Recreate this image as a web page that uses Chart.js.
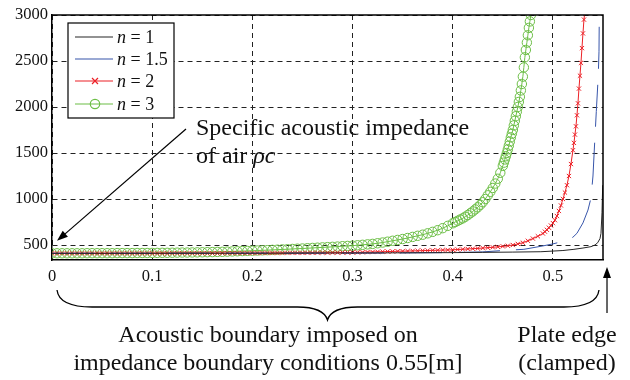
<!DOCTYPE html>
<html>
<head>
<meta charset="utf-8">
<script src="https://cdn.jsdelivr.net/npm/chart.js@4"></script>
<style>
  body { margin: 0; background: #fff; }
  #wrap { position: relative; width: 630px; height: 380px; }
  .note { position: absolute; font-family: "Liberation Serif", "Times New Roman", serif; font-size: 24px; line-height: 28px; color: #111; white-space: nowrap; }
</style>
</head>
<body>
<div id="wrap">
  <canvas id="impChart" width="630" height="380"></canvas>
  <div class="note" style="left:196px; top:113px;">Specific acoustic impedance<br>of air <i>ρc</i></div>
  <div class="note" style="left:118px; top:320px; width:300px; text-align:center;">Acoustic boundary imposed on<br><span style="margin-left:-100px; margin-right:-100px;">impedance boundary conditions 0.55[m]</span></div>
  <div class="note" style="left:516px; top:320px; width:102px; text-align:center;">Plate edge<br>(clamped)</div>
</div>
<script>
// tick values
const xTicks = [0, 0.1, 0.2, 0.3, 0.4, 0.5];
const yTicks = [500, 1000, 1500, 2000, 2500, 3000];
const seriesNames = ['1', '1.5', '2', '3'];

// n = 1
const blackX = [0, 0.1, 0.2, 0.3, 0.4, 0.43, 0.46, 0.488, 0.51, 0.521, 0.53, 0.538, 0.542, 0.5447, 0.547, 0.548, 0.549, 0.5497];
const blackY = [410, 410, 411, 413, 417, 420, 423, 427, 440, 453, 467, 482, 500, 525, 570, 627, 850, 1150];

// n = 1.5
const blueX = [0, 0.1, 0.2, 0.3, 0.35, 0.4, 0.43, 0.45, 0.471, 0.49, 0.5, 0.513, 0.52, 0.524, 0.53, 0.535, 0.538, 0.54, 0.5413, 0.5433, 0.5453, 0.546, 0.5463];
const blueY = [410, 410, 411, 412, 414, 418, 425, 440, 453, 490, 512, 547, 585, 627, 740, 880, 1010, 1250, 1532, 1950, 2348, 2600, 3000];

// n = 2
const redX = [0, 0.005, 0.01, 0.015, 0.02, 0.025, 0.03, 0.035, 0.04, 0.045, 0.05, 0.055, 0.06, 0.065, 0.07, 0.075, 0.08, 0.085, 0.09, 0.095,
  0.1, 0.105, 0.11, 0.115, 0.12, 0.125, 0.13, 0.135, 0.14, 0.145, 0.15, 0.155, 0.16, 0.165, 0.17, 0.175, 0.18, 0.185, 0.19, 0.195,
  0.2, 0.205, 0.21, 0.215, 0.22, 0.225, 0.23, 0.235, 0.24, 0.245, 0.25, 0.255, 0.26, 0.265, 0.27, 0.275, 0.28, 0.285, 0.29, 0.295,
  0.3, 0.305, 0.31, 0.315, 0.32, 0.325, 0.33, 0.335, 0.34, 0.345, 0.35, 0.355, 0.36, 0.365, 0.37, 0.375, 0.38, 0.385, 0.39, 0.395,
  0.4, 0.405, 0.41, 0.415, 0.42, 0.425, 0.43, 0.435, 0.44, 0.445, 0.45, 0.455, 0.46, 0.465, 0.47, 0.475, 0.48, 0.485, 0.49,
  0.492, 0.494, 0.496, 0.498, 0.5, 0.502, 0.504, 0.506, 0.508, 0.51, 0.512, 0.514, 0.516, 0.518, 0.52,
  0.521, 0.522, 0.523, 0.524, 0.525, 0.526, 0.527, 0.528, 0.529, 0.53, 0.531, 0.5315];
const redY = [410, 410, 410, 410, 410, 410, 410, 410, 410, 410, 410, 410, 410, 410, 410, 410, 410, 410, 410, 410,
  410, 410, 410, 410, 411, 411, 411, 411, 411, 411, 411, 411, 411, 411, 412, 412, 412, 412, 412, 412,
  412, 412, 413, 413, 413, 413, 413, 414, 414, 414, 414, 415, 415, 416, 416, 416, 417, 417, 418, 418,
  419, 420, 421, 423, 424, 426, 427, 429, 430, 432, 433, 434, 436, 437, 439, 440, 442, 443, 445, 446,
  448, 451, 454, 457, 460, 463, 467, 471, 475, 480, 485, 492, 500, 512, 525, 546, 570, 595, 625,
  645, 665, 688, 712, 738, 770, 815, 870, 930, 1000, 1070, 1150, 1250, 1380, 1530,
  1610, 1700, 1790, 1910, 2040, 2200, 2340, 2480, 2640, 2800, 2950, 3000];

// n = 3
const greenX = [0, 0.005, 0.01, 0.015, 0.02, 0.025, 0.03, 0.035, 0.04, 0.045, 0.05, 0.055, 0.06, 0.065, 0.07, 0.075, 0.08, 0.085, 0.09, 0.095,
  0.1, 0.105, 0.11, 0.115, 0.12, 0.125, 0.13, 0.135, 0.14, 0.145, 0.15, 0.155, 0.16, 0.165, 0.17, 0.175, 0.18, 0.185, 0.19, 0.195,
  0.2, 0.205, 0.21, 0.215, 0.22, 0.225, 0.23, 0.235, 0.24, 0.245, 0.25, 0.255, 0.26, 0.265, 0.27, 0.275, 0.28, 0.285, 0.29, 0.295,
  0.3, 0.305, 0.31, 0.315, 0.32, 0.325, 0.33, 0.335, 0.34, 0.345, 0.35, 0.355, 0.36, 0.365, 0.37, 0.375, 0.38, 0.385, 0.39, 0.395, 0.4,
  0.4025, 0.405, 0.4075, 0.41, 0.4125, 0.415, 0.4175, 0.42, 0.4225, 0.425, 0.4275, 0.43, 0.4325, 0.435, 0.4375, 0.44, 0.4425, 0.445, 0.4475, 0.45,
  0.451, 0.452, 0.453, 0.454, 0.455, 0.456, 0.457, 0.458, 0.459, 0.46, 0.461, 0.462, 0.463, 0.464, 0.465, 0.466, 0.467, 0.468, 0.469, 0.47,
  0.471, 0.472, 0.473, 0.474, 0.475, 0.476, 0.477, 0.478];
const greenY = [410, 410, 410, 410, 410, 410, 410, 411, 411, 411, 411, 411, 411, 412, 412, 412, 412, 413, 413, 413,
  414, 414, 415, 415, 416, 417, 418, 418, 419, 420, 421, 422, 423, 425, 426, 428, 430, 432, 434, 436,
  438, 440, 442, 444, 447, 449, 452, 454, 457, 460, 462, 465, 468, 471, 474, 477, 480, 483, 487, 490,
  493, 497, 502, 507, 512, 519, 527, 536, 546, 555, 565, 576, 588, 600, 612, 627, 643, 661, 683, 708, 736,
  750, 763, 777, 790, 807, 825, 845, 865, 887, 910, 936, 965, 1000, 1040, 1078, 1120, 1168, 1220, 1285, 1360,
  1395, 1430, 1465, 1500, 1540, 1580, 1625, 1670, 1710, 1750, 1800, 1850, 1900, 1950, 2000, 2055, 2110, 2180, 2250, 2330,
  2430, 2540, 2620, 2700, 2780, 2860, 2930, 3000];

const BLACK = '#262626';
const BLUE = 'rgb(55, 85, 170)';
const RED = 'rgb(236, 32, 38)';
const GREEN = 'rgb(108, 190, 70)';
const SERIF = '"Liberation Serif", "Times New Roman", serif';

function pts(xs, ys) {
    return xs.map((x, i) => ({ x: x, y: ys[i] }));
}

function arrow(ctx, x1, y1, x2, y2) {
    const a = Math.atan2(y2 - y1, x2 - x1);
    const len = 11, w = 4;
    ctx.beginPath();
    ctx.moveTo(x1, y1);
    ctx.lineTo(x2 - Math.cos(a) * len * 0.8, y2 - Math.sin(a) * len * 0.8);
    ctx.stroke();
    ctx.beginPath();
    ctx.moveTo(x2, y2);
    ctx.lineTo(x2 - Math.cos(a) * len + Math.sin(a) * w, y2 - Math.sin(a) * len - Math.cos(a) * w);
    ctx.lineTo(x2 - Math.cos(a) * len - Math.sin(a) * w, y2 - Math.sin(a) * len + Math.cos(a) * w);
    ctx.closePath();
    ctx.fill();
}

// frame, legend, arrows and the brace under the axis
const extras = {
    id: 'extras',
    afterDraw(chart) {
        const { ctx, chartArea: a, scales } = chart;
        const sx = scales.x, sy = scales.y;
        ctx.save();
        ctx.strokeStyle = '#000';
        ctx.lineWidth = 1.5;
        ctx.beginPath();
        ctx.moveTo(a.left, a.top);
        ctx.lineTo(a.right, a.top);
        ctx.lineTo(a.right, a.bottom);
        ctx.stroke();

        // legend box
        ctx.fillStyle = '#fff';
        ctx.fillRect(68, 23, 106, 95);
        ctx.lineWidth = 1.2;
        ctx.strokeRect(68, 23, 106, 95);
        const rows = [37, 59, 81, 104];
        chart.data.datasets.forEach((ds, i) => {
            const y = rows[i];
            ctx.strokeStyle = ds.borderColor;
            ctx.lineWidth = 1.2;
            ctx.setLineDash([]);
            ctx.beginPath();
            ctx.moveTo(75, y);
            ctx.lineTo(113, y);
            ctx.stroke();
            if (ds.pointStyle === 'crossRot') {
                ctx.beginPath();
                ctx.moveTo(92, y - 3); ctx.lineTo(98, y + 3);
                ctx.moveTo(98, y - 3); ctx.lineTo(92, y + 3);
                ctx.stroke();
            } else if (ds.pointStyle === 'circle') {
                ctx.beginPath();
                ctx.arc(95, y, 4.7, 0, Math.PI * 2);
                ctx.stroke();
            }
            ctx.fillStyle = '#111';
            ctx.textBaseline = 'alphabetic';
            ctx.font = 'italic 18px ' + SERIF;
            ctx.fillText('n', 117, y + 6);
            const w = ctx.measureText('n').width;
            ctx.font = '18px ' + SERIF;
            ctx.fillText(' = ' + seriesNames[i], 117 + w, y + 6);
        });

        // arrow to rho c
        ctx.strokeStyle = '#000';
        ctx.fillStyle = '#000';
        ctx.lineWidth = 1.2;
        arrow(ctx, 186, 129, sx.getPixelForValue(0.005), sy.getPixelForValue(545));
        // plate edge arrow
        const ex = sx.getPixelForValue(0.554);
        arrow(ctx, ex, 313, ex, a.bottom + 7);

        // curly brace
        const l = sx.getPixelForValue(0.005), r = sx.getPixelForValue(0.546), m = sx.getPixelForValue(0.275);
        const yb = 307;
        ctx.lineWidth = 1.3;
        ctx.beginPath();
        ctx.moveTo(l, 290);
        ctx.quadraticCurveTo(l + 2, yb, l + 35, yb);
        ctx.lineTo(m - 30, yb);
        ctx.quadraticCurveTo(m - 4, yb, m, 320);
        ctx.quadraticCurveTo(m + 4, yb, m + 30, yb);
        ctx.lineTo(r - 35, yb);
        ctx.quadraticCurveTo(r - 2, yb, r, 290);
        ctx.stroke();
        ctx.restore();
    }
};

const ctx = document.getElementById('impChart').getContext('2d');
const chart = new Chart(ctx, {
    type: 'line',
    data: {
        datasets: [
            {
                label: 'n = 1',
                data: pts(blackX, blackY),
                borderColor: BLACK,
                borderWidth: 1,
                pointRadius: 0
            },
            {
                label: 'n = 1.5',
                data: pts(blueX, blueY),
                borderColor: BLUE,
                borderWidth: 1,
                borderDash: [42, 16],
                pointRadius: 0
            },
            {
                label: 'n = 2',
                data: pts(redX, redY),
                borderColor: RED,
                borderWidth: 1,
                pointStyle: 'crossRot',
                pointRadius: (c) => (c.raw && c.raw.y >= 3000 ? 0 : 3),
                pointBorderColor: RED,
                pointBorderWidth: 1
            },
            {
                label: 'n = 3',
                data: pts(greenX, greenY),
                borderColor: GREEN,
                borderWidth: 1,
                pointStyle: 'circle',
                pointRadius: 4.7,
                pointBorderColor: GREEN,
                pointBackgroundColor: 'rgba(0,0,0,0)',
                pointBorderWidth: 1
            }
        ]
    },
    options: {
        responsive: false,
        devicePixelRatio: 1,
        animation: false,
        parsing: true,
        layout: { padding: { top: 15, right: 27, left: 0, bottom: 0 } },
        plugins: {
            legend: { display: false },
            tooltip: { enabled: false }
        },
        elements: { line: { tension: 0 } },
        scales: {
            x: {
                type: 'linear',
                min: 0,
                max: 0.55,
                afterBuildTicks: (s) => { s.ticks = xTicks.map(v => ({ value: v })); },
                afterFit: (s) => { s.height = 120; },
                ticks: {
                    color: '#111',
                    padding: 7,
                    font: { family: SERIF, size: 16.5 },
                    callback: (v) => String(v)
                },
                grid: { color: '#222', lineWidth: 1, drawTicks: false, tickLength: 0 },
                border: { display: true, color: '#000', width: 1.5, dash: [5, 4] }
            },
            y: {
                type: 'linear',
                min: 337,
                max: 3000,
                afterBuildTicks: (s) => { s.ticks = yTicks.map(v => ({ value: v })); },
                afterFit: (s) => { s.width = 52; },
                ticks: {
                    color: '#111',
                    padding: 4,
                    font: { family: SERIF, size: 16.5 },
                    callback: (v) => String(v)
                },
                grid: { color: '#222', lineWidth: 1, drawTicks: false, tickLength: 0 },
                border: { display: true, color: '#000', width: 1.5, dash: [5, 4] }
            }
        }
    },
    plugins: [extras]
});
</script>
</body>
</html>
